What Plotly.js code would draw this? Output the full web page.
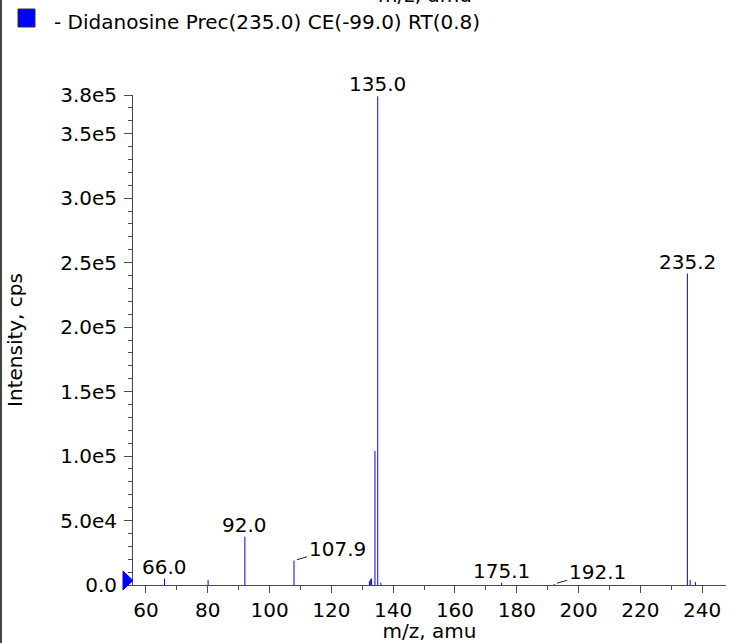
<!DOCTYPE html>
<html>
<head>
<meta charset="utf-8">
<script src="https://cdn.plot.ly/plotly-3.0.1.min.js"></script>
<style>
html,body{margin:0;padding:0;background:#fff;}
#chart{width:730px;height:643px;}
</style>
</head>
<body>
<div id="chart"></div>
<script>
// ---- data ----
const mz = [66.0, 80.1, 92.0, 107.9, 132.3, 132.6, 133.0, 134.1, 135.0, 136.0, 175.1, 192.1, 235.2, 236.1, 237.8];
const intensity = [5000, 4000, 37500, 19000, 3000, 4500, 5000, 104000, 379000, 1800, 1800, 800, 241500, 4000, 2300];

const labelMz = [66.0, 92.0, 107.9, 135.0, 175.1, 192.1, 235.2];
const labelIntensity = [5000, 37500, 19000, 379000, 1800, 800, 241500];
const labelText = ["66.0", "92.0", "107.9", "135.0", "175.1", "192.1", "235.2"];
const labelLeader = [false, false, true, false, false, true, false];

const xTickVals = [60, 80, 100, 120, 140, 160, 180, 200, 220, 240];
const yTickVals = [0, 50000, 100000, 150000, 200000, 250000, 300000, 350000, 380000];
const yTickText = ["0.0", "5.0e4", "1.0e5", "1.5e5", "2.0e5", "2.5e5", "3.0e5", "3.5e5", "3.8e5"];

const seriesName = "- Didanosine Prec(235.0) CE(-99.0) RT(0.8)";
const xTitle = "m/z, amu";
const yTitle = "Intensity, cps";

// ---- build stick spectrum ----
const sx = [], sy = [];
for (let i = 0; i < mz.length; i++) {
  sx.push(mz[i], mz[i], null);
  sy.push(0, intensity[i], null);
}

const FONT = "DejaVu Sans, Liberation Sans, Arial, sans-serif";
const AX = "#4a4a4a";

// geometry helpers for paper coords (plot area px)
const L = 133, R = 4, T = 95, B = 58, W = 730, H = 643;
const pw = W - L - R, ph = H - T - B;
const px = v => (v - L) / pw;
const py = v => (H - B - v) / ph;

const annotations = [];
for (let i = 0; i < labelMz.length; i++) {
  if (labelLeader[i]) {
    annotations.push({
      x: labelMz[i], y: labelIntensity[i], xref: 'x', yref: 'y',
      text: labelText[i], showarrow: true, arrowhead: 0, arrowwidth: 1,
      arrowcolor: '#222', ax: 43, ay: -12, standoff: 3,
      font: {family: FONT, size: 20, color: '#000'}
    });
  } else {
    annotations.push({
      x: labelMz[i], y: labelIntensity[i], xref: 'x', yref: 'y',
      text: labelText[i], showarrow: false, yanchor: 'middle', yshift: 12,
      font: {family: FONT, size: 20, color: '#000'}
    });
  }
}
// legend text
annotations.push({
  xref: 'paper', yref: 'paper', x: px(52), y: py(22),
  xanchor: 'left', yanchor: 'middle', showarrow: false,
  text: seriesName, font: {family: FONT, size: 20, color: '#000'}
});
// clipped title of the chart above
annotations.push({
  xref: 'paper', yref: 'paper', x: px(425), y: py(-5),
  xanchor: 'center', yanchor: 'middle', showarrow: false,
  text: xTitle, font: {family: FONT, size: 20, color: '#000'}
});

const shapes = [
  // legend swatch
  {type: 'rect', xref: 'paper', yref: 'paper', x0: px(18), x1: px(35), y0: py(27), y1: py(9),
   fillcolor: '#0000ff', line: {color: '#333', width: 1}, layer: 'above'},
  // left border
  {type: 'line', xref: 'paper', yref: 'paper', x0: px(1), x1: px(1), y0: py(-5), y1: py(650),
   line: {color: '#444', width: 2}, layer: 'above'},
  // origin marker triangle
  {type: 'path', xref: 'paper', yref: 'paper',
   path: `M ${px(123)} ${py(571)} L ${px(133)} ${py(580.5)} L ${px(123)} ${py(590)} Z`,
   fillcolor: '#0000ff', line: {color: '#0000ff', width: 1}, layer: 'above'}
];

const trace = {
  x: sx, y: sy, type: 'scatter', mode: 'lines',
  line: {color: '#0000ff', width: 1}, hoverinfo: 'skip', showlegend: false
};

const layout = {
  width: W, height: H,
  margin: {l: L, r: R, t: T, b: B, pad: 0},
  paper_bgcolor: '#fff', plot_bgcolor: '#fff',
  showlegend: false,
  font: {family: FONT, size: 20, color: '#000'},
  xaxis: {
    range: [55.8, 247.7], tickmode: 'array', tickvals: xTickVals,
    ticks: 'outside', ticklen: 7, tickwidth: 1, tickcolor: AX,
    showline: true, linecolor: AX, linewidth: 1, showgrid: false, zeroline: false,
    minor: {tickmode: 'linear', tick0: 0, dtick: 10, ticklen: 4, tickcolor: AX, showgrid: false},
    tickfont: {family: FONT, size: 20, color: '#000'},
    title: {text: xTitle, font: {family: FONT, size: 20, color: '#000'}, standoff: 7},
    automargin: false
  },
  yaxis: {
    range: [0, 380000], tickmode: 'array', tickvals: yTickVals, ticktext: yTickText,
    ticks: 'outside', ticklen: 8, tickwidth: 1, tickcolor: AX,
    showline: true, linecolor: AX, linewidth: 1, showgrid: false, zeroline: false,
    minor: {tickmode: 'linear', tick0: 0, dtick: 10000, ticklen: 4, tickcolor: AX, showgrid: false},
    tickfont: {family: FONT, size: 20, color: '#000'},
    ticklabelstandoff: 3,
    title: {text: yTitle, font: {family: FONT, size: 20, color: '#000'}, standoff: 32},
    automargin: false
  },
  annotations: annotations,
  shapes: shapes
};

Plotly.newPlot('chart', [trace], layout, {staticPlot: true, displayModeBar: false});
</script>
</body>
</html>
